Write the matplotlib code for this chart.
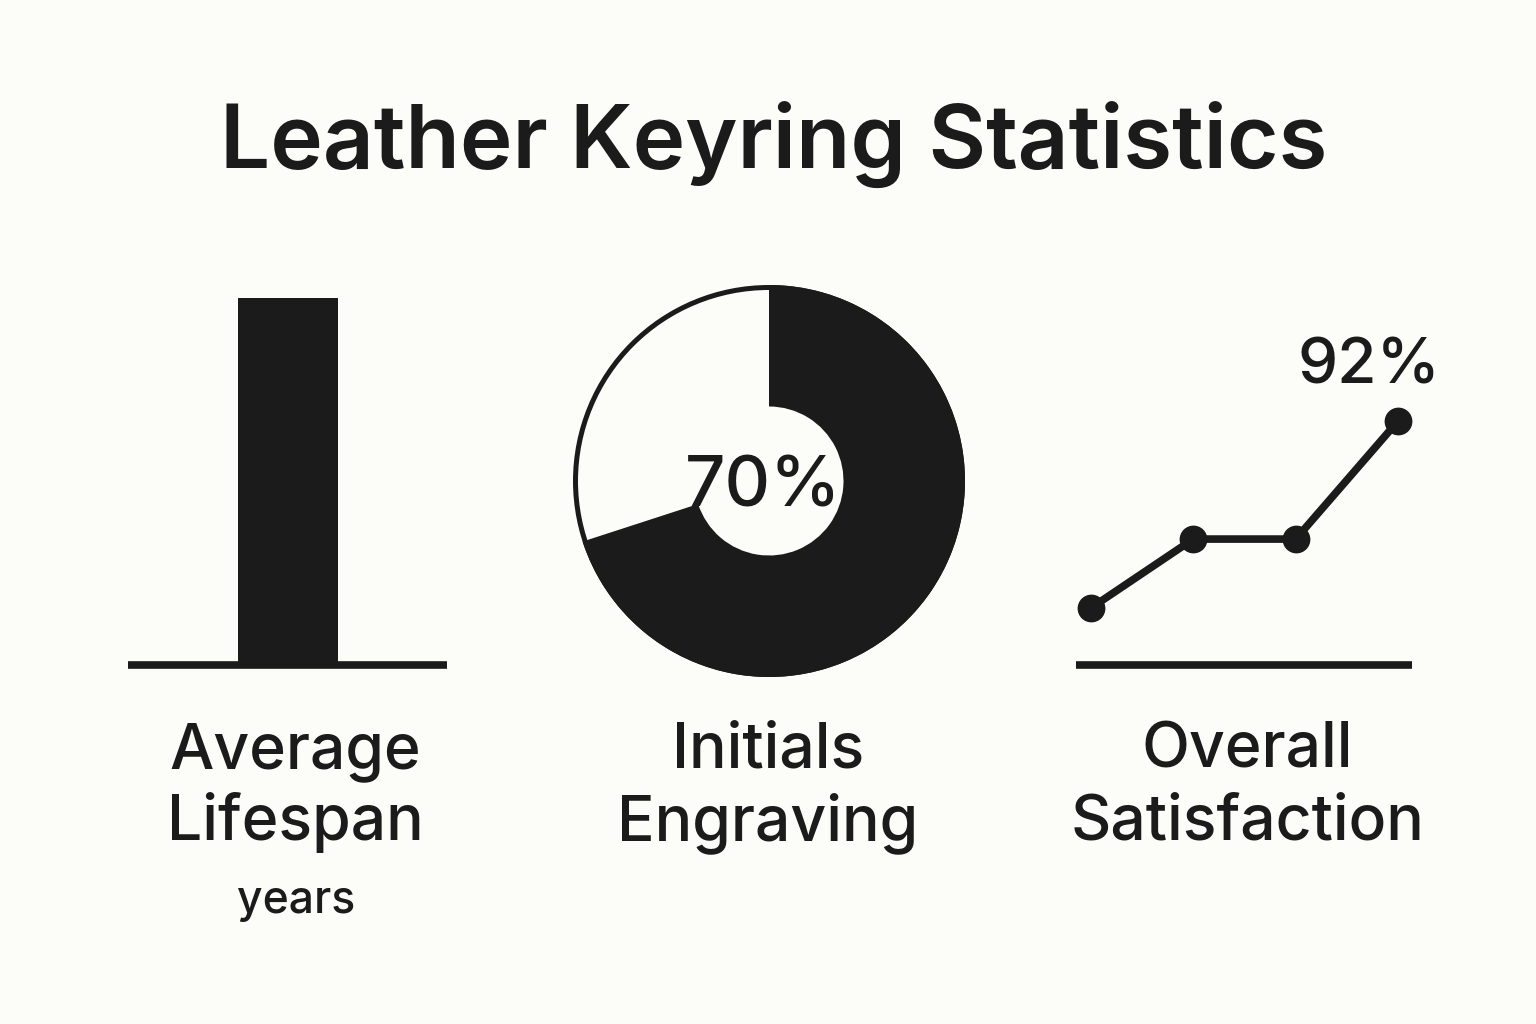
import numpy as np
import matplotlib
matplotlib.use("Agg")
import matplotlib.pyplot as plt
from matplotlib.patches import Circle

plt.rcParams['font.family'] = ['Inter', 'DejaVu Sans']

# data
title = "Leather Keyring Statistics"
panel_labels = [("Average", "Lifespan"), ("Initials", "Engraving"),
                ("Overall", "Satisfaction")]
lifespan_unit = "years"
lifespan_years = [10]
engraving_share = [70, 30]          # % with initials, rest
satisfaction_steps = [0, 1, 2, 3]
satisfaction = [73, 80, 80, 92]     # % over time

INK = '#1b1b1b'
BG = '#fcfcf8'
W, H = 1536, 1024


def px_axes(fig, x0, y0, x1, y1):
    """axes from pixel box (top-left origin)"""
    return fig.add_axes([x0 / W, 1 - y1 / H, (x1 - x0) / W, (y1 - y0) / H])


def baseline_only(ax):
    ax.set_facecolor('none')
    for s in ['top', 'left', 'right']:
        ax.spines[s].set_visible(False)
    ax.spines['bottom'].set_linewidth(5.5)
    ax.spines['bottom'].set_color(INK)
    ax.spines['bottom'].set_capstyle('butt')
    ax.set_xticks([])
    ax.set_yticks([])


fig = plt.figure(figsize=(W / 100, H / 100), dpi=100, facecolor=BG)

fig.text(774 / W, 1 - 168 / H, title, ha='center', va='baseline',
         fontsize=64, fontweight='semibold', color=INK)

# --- bar: average lifespan
ax1 = px_axes(fig, 128, 298, 447, 665)
ax1.bar([0.5], lifespan_years, width=100 / 319, color=INK, linewidth=0)
ax1.set_xlim(0, 1)
ax1.set_ylim(0, lifespan_years[0])
baseline_only(ax1)

# --- donut: initials engraving
R = 196.0
ax2 = px_axes(fig, 769 - 215, 481 - 215, 769 + 215, 481 + 215)
ax2.pie(engraving_share, startangle=90, counterclock=False,
        colors=[INK, 'none'],
        wedgeprops=dict(width=(R - 74.5) / R, linewidth=0))
ax2.add_patch(Circle((0, 0), (R - 2.5) / R, fill=False, ec=INK, lw=3.6))
ax2.set_xlim(-215 / R, 215 / R)
ax2.set_ylim(-215 / R, 215 / R)
ax2.set_aspect('equal')
ax2.axis('off')
ax2.text(-0.03, -0.13, f"{engraving_share[0]}%", ha='center', va='baseline',
         fontsize=51, fontweight='medium', color=INK)

# --- line: overall satisfaction
ax3 = px_axes(fig, 1076, 300, 1412, 665)
ax3.plot(satisfaction_steps, satisfaction, color=INK, lw=5.5,
         marker='o', ms=19, mfc=INK, mec=INK, solid_capstyle='round')
ax3.set_xlim(-0.146, 3.136)
ax3.set_ylim(67.2, 104.3)
baseline_only(ax3)
ax3.annotate(f"{satisfaction[-1]}%", (satisfaction_steps[-1], satisfaction[-1]),
             xytext=(-21, 27), textcoords='offset points', ha='center',
             va='baseline', fontsize=46, fontweight='medium', color=INK,
             annotation_clip=False)

# --- labels under each panel
for cx, (l1, l2) in zip([295, 768, 1247], panel_labels):
    fig.text(cx / W, 1 - 768 / H, l1, ha='center', va='baseline',
             fontsize=45, fontweight='medium', color=INK)
    fig.text(cx / W, 1 - 840 / H, l2, ha='center', va='baseline',
             fontsize=45, fontweight='medium', color=INK)
fig.text(296 / W, 1 - 913 / H, lifespan_unit, ha='center', va='baseline',
         fontsize=32, fontweight='medium', color=INK)

fig.savefig('out.png', dpi=100, facecolor=BG)
